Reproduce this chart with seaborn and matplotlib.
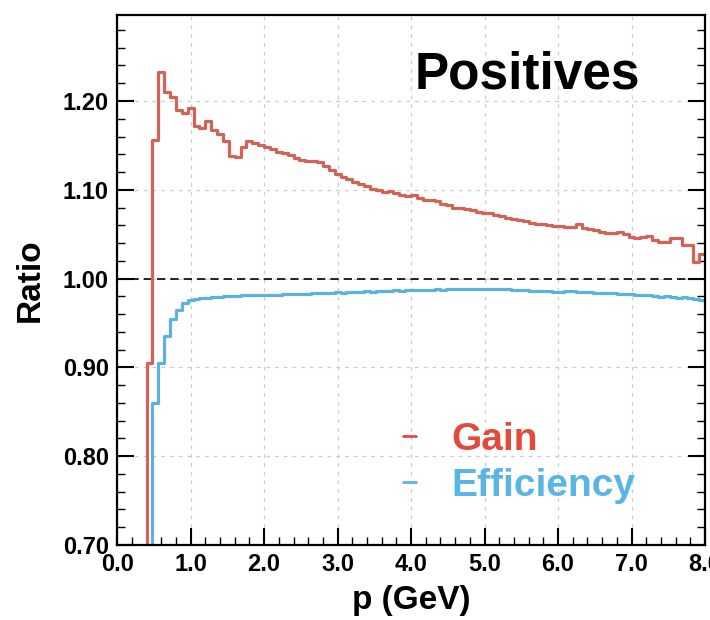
import numpy as np
import pandas as pd
import matplotlib
matplotlib.use("Agg")
import matplotlib.pyplot as plt
from matplotlib.ticker import MultipleLocator, FormatStrFormatter
import seaborn as sns

# ---- data: 100 bins of 0.08 GeV from 0 to 8 GeV ----
bin_lo = 0.0
bin_hi = 8.0
n_bins = 100

gain = [0, 0, 0, 0, 0,
        0.905, 1.156, 1.233, 1.210, 1.205, 1.190, 1.186, 1.192, 1.172, 1.170,
        1.177, 1.167, 1.163, 1.155, 1.138, 1.137, 1.148, 1.155, 1.153, 1.150,
        1.148, 1.146, 1.143, 1.141, 1.139, 1.136, 1.134, 1.133, 1.133, 1.131,
        1.127, 1.122, 1.118, 1.114, 1.112, 1.109, 1.107, 1.104, 1.101, 1.100,
        1.098, 1.099, 1.096, 1.094, 1.093, 1.094, 1.091, 1.089, 1.088, 1.087,
        1.084, 1.083, 1.080, 1.079, 1.078, 1.077, 1.075, 1.074, 1.074, 1.072,
        1.070, 1.068, 1.067, 1.066, 1.065, 1.063, 1.062, 1.062, 1.060, 1.059,
        1.059, 1.058, 1.058, 1.061, 1.057, 1.056, 1.055, 1.052, 1.051, 1.051,
        1.052, 1.050, 1.047, 1.046, 1.047, 1.048, 1.044, 1.041, 1.041, 1.046,
        1.046, 1.038, 1.038, 1.019, 1.028]

efficiency = [0, 0, 0, 0, 0,
              0.700, 0.860, 0.905, 0.935, 0.955, 0.965, 0.972, 0.976, 0.977, 0.978,
              0.978, 0.979, 0.979, 0.980, 0.980, 0.980, 0.981, 0.981, 0.981, 0.982,
              0.982, 0.982, 0.982, 0.983, 0.983, 0.983, 0.983, 0.983, 0.984, 0.984,
              0.984, 0.984, 0.985, 0.984, 0.985, 0.985, 0.985, 0.986, 0.985, 0.986,
              0.986, 0.986, 0.987, 0.986, 0.987, 0.987, 0.987, 0.987, 0.987, 0.988,
              0.987, 0.988, 0.988, 0.988, 0.988, 0.988, 0.988, 0.988, 0.988, 0.988,
              0.988, 0.988, 0.987, 0.987, 0.987, 0.986, 0.986, 0.986, 0.986, 0.985,
              0.985, 0.986, 0.986, 0.985, 0.985, 0.985, 0.984, 0.984, 0.984, 0.984,
              0.983, 0.983, 0.983, 0.982, 0.981, 0.982, 0.980, 0.979, 0.980, 0.979,
              0.978, 0.979, 0.978, 0.977, 0.976]

series_names = ["Gain", "Efficiency"]
title_text = "Positives"
x_label = "p (GeV)"
y_label = "Ratio"

# ---- build table ----
edges = np.linspace(bin_lo, bin_hi, n_bins + 1)
centers = 0.5 * (edges[:-1] + edges[1:])
df = pd.DataFrame({
    "p": np.concatenate([centers, centers]),
    "ratio": np.concatenate([gain, efficiency]),
    "series": [series_names[0]] * n_bins + [series_names[1]] * n_bins,
})

line_colors = {"Gain": "#cf6457", "Efficiency": "#5cb2de"}
text_colors = {"Gain": "#e24b3c", "Efficiency": "#5ab5e6"}

sns.set_theme(style="white")
plt.rcParams["font.family"] = ["Liberation Sans", "DejaVu Sans"]
plt.rcParams["font.weight"] = "bold"
plt.rcParams["text.color"] = "black"
plt.rcParams["axes.labelcolor"] = "black"
plt.rcParams["xtick.color"] = "black"
plt.rcParams["ytick.color"] = "black"

fig = plt.figure(figsize=(7.1, 6.2), dpi=100)
ax = fig.add_axes([0.165, 0.121, 0.828, 0.855])

for name in series_names:
    sub = df[df["series"] == name]
    sns.histplot(data=sub, x="p", weights="ratio", bins=n_bins,
                 binrange=(bin_lo, bin_hi),
                 element="step", fill=False, color=line_colors[name],
                 linewidth=2.3, ax=ax, label=name)

ax.axhline(1.0, color="black", linestyle=(0, (5, 3)), linewidth=1.2, zorder=1)

ax.set_xlim(0, 8.0)
ax.set_ylim(0.70, 1.297)
ax.xaxis.set_major_locator(MultipleLocator(1.0))
ax.xaxis.set_minor_locator(MultipleLocator(0.2))
ax.yaxis.set_major_locator(MultipleLocator(0.1))
ax.yaxis.set_minor_locator(MultipleLocator(0.02))
ax.xaxis.set_major_formatter(FormatStrFormatter("%.1f"))
ax.yaxis.set_major_formatter(FormatStrFormatter("%.2f"))

ax.grid(True, which="major", color="#cccccc", linestyle=(0, (3, 4)), linewidth=0.9)
ax.set_axisbelow(True)

ax.tick_params(axis="both", which="major", direction="in", length=12, width=1.5,
               labelsize=17, colors="black", right=True, left=True, bottom=True)
ax.tick_params(axis="x", which="major", pad=6)
ax.tick_params(axis="y", which="major", pad=6)
ax.tick_params(axis="both", which="minor", direction="in", length=6, width=1.0,
               colors="black", right=True, left=True, bottom=True)
for lab in ax.get_xticklabels() + ax.get_yticklabels():
    lab.set_fontweight("bold")
    lab.set_color("black")

for s in ax.spines.values():
    s.set_color("black")
    s.set_linewidth(1.6)

ax.set_xlabel(x_label, fontsize=24, fontweight="bold", labelpad=6, color="black")
ax.set_ylabel(y_label, fontsize=24, fontweight="bold", labelpad=12, color="black")

ax.text(0.697, 0.887, title_text, transform=ax.transAxes, ha="center", va="center",
        fontsize=37, fontweight="bold", color="black")

handles = ax.get_lines()[:2]
leg = ax.legend(handles=handles, labels=series_names, loc="center left",
                bbox_to_anchor=(0.487, 0.155), frameon=False,
                handlelength=0.32, handletextpad=0.9, labelspacing=0.25,
                borderaxespad=0, borderpad=0,
                prop={"weight": "bold", "size": 28})
for txt, name in zip(leg.get_texts(), series_names):
    txt.set_color(text_colors[name])
for lh, name in zip(leg.legend_handles, series_names):
    lh.set_linewidth(2.0)
    lh.set_color(text_colors[name])

fig.savefig("out.png", dpi=100)
